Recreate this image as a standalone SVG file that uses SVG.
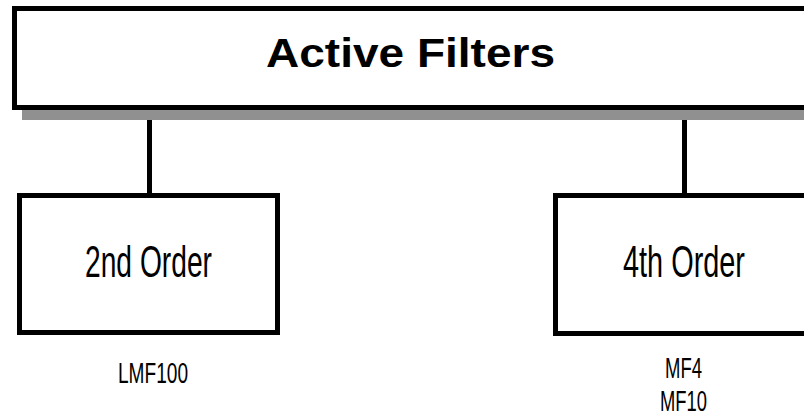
<svg xmlns="http://www.w3.org/2000/svg" width="804" height="416" viewBox="0 0 804 416">
<style>
.box{fill:#fff;stroke:#000;stroke-width:5}
.shadow{fill:#909090}
.conn{stroke:#000;stroke-width:5;fill:none}
.t{font-family:"Liberation Sans",Arial,sans-serif;fill:#000;text-anchor:middle}
.title{font-weight:bold;font-size:40px}
.node{font-size:44px}
.lbl{font-size:29px}
</style>
<g id="connectors">
<line class="conn" x1="149.5" y1="110" x2="149.5" y2="195"/>
<line class="conn" x1="684.5" y1="110" x2="684.5" y2="195"/>
</g>
<g id="root">
<rect class="shadow" x="22" y="110" width="800" height="10"/>
<rect class="box" x="14.5" y="8.5" width="800" height="99"/>
<text class="t title" x="410.5" y="67" textLength="289" lengthAdjust="spacingAndGlyphs">Active Filters</text>
</g>
<g id="second">
<rect class="box" x="19.5" y="195.5" width="258" height="137"/>
<text class="t node" x="148.5" y="277" textLength="127" lengthAdjust="spacingAndGlyphs">2nd Order</text>
<text class="t lbl" x="153" y="383" textLength="70" lengthAdjust="spacingAndGlyphs">LMF100</text>
</g>
<g id="fourth">
<rect class="box" x="555.5" y="195.5" width="258" height="138"/>
<text class="t node" x="684" y="277" textLength="122" lengthAdjust="spacingAndGlyphs">4th Order</text>
<text class="t lbl" x="683.5" y="378" textLength="37" lengthAdjust="spacingAndGlyphs">MF4</text>
<text class="t lbl" x="683.5" y="411" textLength="47" lengthAdjust="spacingAndGlyphs">MF10</text>
</g>
</svg>
